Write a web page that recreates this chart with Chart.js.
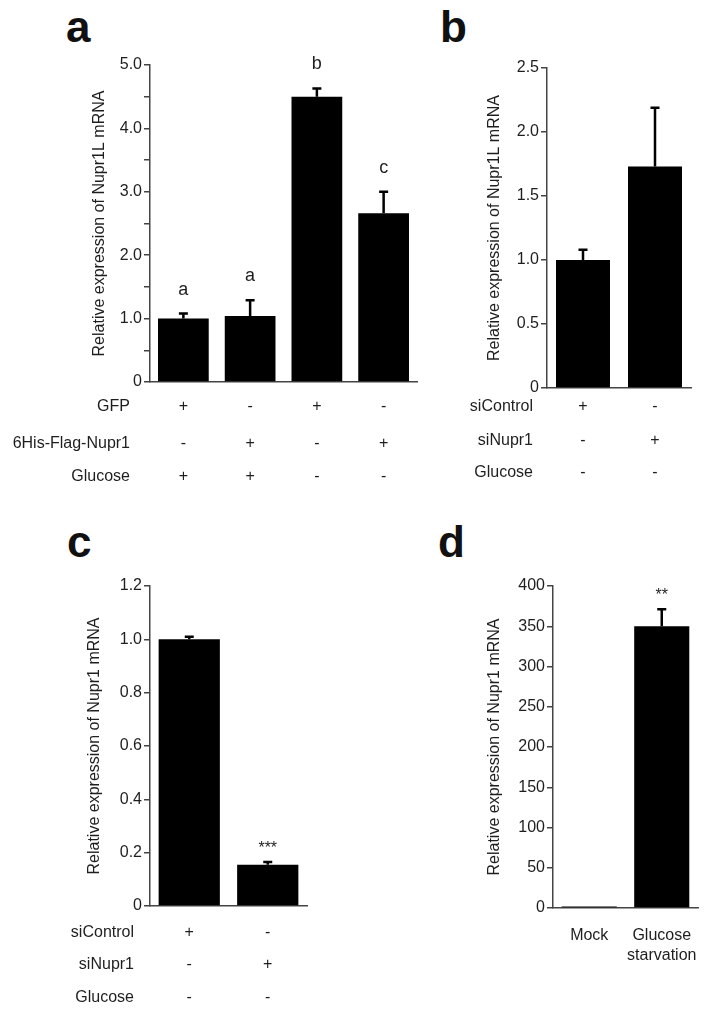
<!DOCTYPE html>
<html>
<head>
<meta charset="utf-8">
<script src="https://cdn.jsdelivr.net/npm/chart.js@4"></script>
<style>
  body { margin: 0; background: #fff; }
  #page { position: relative; width: 716px; height: 1015px; overflow: hidden; }
  canvas { position: absolute; }
  .letter { position: absolute; font: bold 44px "Liberation Sans", Arial, sans-serif; line-height: 44px; color: #111; }
</style>
</head>
<body>
<div id="page">
  <div class="letter" style="left:66px;top:5px">a</div>
  <div class="letter" style="left:440px;top:5px">b</div>
  <div class="letter" style="left:67px;top:520px">c</div>
  <div class="letter" style="left:438px;top:520px">d</div>
  <canvas id="chartA" width="430" height="500" style="left:0;top:0"></canvas>
  <canvas id="chartB" width="286" height="500" style="left:430px;top:0"></canvas>
  <canvas id="chartC" width="430" height="515" style="left:0;top:500px"></canvas>
  <canvas id="chartD" width="286" height="515" style="left:430px;top:500px"></canvas>
</div>
<script>
// panel a
const aCategories = ['GFP +Glc', 'Nupr1 +Glc', 'GFP -Glc', 'Nupr1 -Glc'];
const aValues = [1.0, 1.04, 4.5, 2.66];
const aErrors = [0.08, 0.25, 0.13, 0.34];
const aMarks = ['a', 'a', 'b', 'c'];
const aGFP = ['+', '-', '+', '-'];
const aNupr1 = ['-', '+', '-', '+'];
const aGlucose = ['+', '+', '-', '-'];

// panel b
const bCategories = ['siControl', 'siNupr1'];
const bValues = [1.0, 1.73];
const bErrors = [0.08, 0.46];
const bSiControl = ['+', '-'];
const bSiNupr1 = ['-', '+'];
const bGlucose = ['-', '-'];

// panel c
const cCategories = ['siControl', 'siNupr1'];
const cValues = [1.0, 0.155];
const cErrors = [0.01, 0.01];
const cMarks = ['', '***'];
const cSiControl = ['+', '-'];
const cSiNupr1 = ['-', '+'];
const cGlucose = ['-', '-'];

// panel d
const dCategories = ['Mock', ['Glucose', 'starvation']];
const dValues = [1, 350];
const dErrors = [0, 21];
const dMarks = ['', '**'];

const FONT = '"Liberation Sans", Arial, sans-serif';
const TEXT = '#1e1e1e';
const AXIS = '#444';

// error bars + marks above them
const errorBars = {
  id: 'errorBars',
  afterDatasetsDraw(chart, args, opts) {
    const { ctx } = chart;
    const y = chart.scales.y;
    const meta = chart.getDatasetMeta(0);
    const data = chart.data.datasets[0].data;
    ctx.save();
    meta.data.forEach((bar, i) => {
      const e = opts.errors[i];
      let top = y.getPixelForValue(data[i]);
      if (e) {
        top = y.getPixelForValue(data[i] + e);
        ctx.strokeStyle = '#000';
        ctx.lineWidth = 2.5;
        ctx.beginPath();
        ctx.moveTo(bar.x, bar.y);
        ctx.lineTo(bar.x, top);
        ctx.moveTo(bar.x - 4.5, top);
        ctx.lineTo(bar.x + 4.5, top);
        ctx.stroke();
      }
      const m = opts.marks && opts.marks[i];
      if (m) {
        const star = m.indexOf('*') >= 0;
        ctx.fillStyle = TEXT;
        ctx.font = (star ? '16px ' : '18px ') + FONT;
        ctx.textAlign = 'center';
        ctx.textBaseline = 'alphabetic';
        ctx.fillText(m, bar.x, top - (star ? 9 : 19));
      }
    });
    ctx.restore();
  }
};

// +/- condition table under the x axis
const rowTable = {
  id: 'rowTable',
  afterDraw(chart, args, opts) {
    if (!opts.rows) return;
    const { ctx } = chart;
    const x = chart.scales.x;
    ctx.save();
    ctx.font = '16px ' + FONT;
    ctx.fillStyle = TEXT;
    ctx.textBaseline = 'middle';
    opts.rows.forEach((row, i) => {
      const y = opts.ys[i];
      ctx.textAlign = 'right';
      ctx.fillText(row.label, opts.labelRight, y);
      ctx.textAlign = 'center';
      row.signs.forEach((s, j) => ctx.fillText(s, x.getPixelForValue(j), y));
    });
    ctx.restore();
  }
};

function makePanel(id, p) {
  const yWidth = p.left - p.titleX + 21.6;
  return new Chart(document.getElementById(id), {
    type: 'bar',
    data: {
      labels: p.labels,
      datasets: [{
        data: p.values,
        backgroundColor: '#000',
        borderWidth: 0,
        categoryPercentage: 1,
        barPercentage: p.barPct,
        minBarLength: p.minBar || 0,
      }],
    },
    options: {
      responsive: false,
      animation: false,
      layout: {
        padding: { left: p.left - yWidth, top: p.top, right: p.width - p.right, bottom: p.height - p.bottom - p.xHeight },
      },
      plugins: {
        legend: { display: false },
        tooltip: { enabled: false },
        errorBars: { errors: p.errors, marks: p.marks },
        rowTable: p.table || {},
      },
      scales: {
        x: {
          afterFit: scale => { scale.height = p.xHeight; },
          grid: { display: false },
          border: { color: AXIS, width: 1.5 },
          ticks: {
            display: !!p.showX,
            color: TEXT,
            font: { size: 16, family: FONT, lineHeight: 1.25 },
            padding: 10,
            maxRotation: 0,
            autoSkip: false,
          },
        },
        y: {
          min: 0,
          max: p.max,
          afterFit: scale => { scale.width = yWidth; },
          grid: { drawOnChartArea: false, drawTicks: true, tickLength: 6, color: AXIS, lineWidth: 1.5 },
          border: { color: AXIS, width: 1.5 },
          ticks: {
            stepSize: p.step,
            autoSkip: false,
            padding: 2,
            color: TEXT,
            font: { size: 16, family: FONT },
            callback: p.fmt,
          },
          title: {
            display: true,
            text: p.title,
            color: TEXT,
            font: { size: 16, family: FONT },
            padding: { top: 12, bottom: 0 },
          },
        },
      },
    },
    plugins: [errorBars, rowTable],
  });
}

makePanel('chartA', {
  labels: aCategories, values: aValues, errors: aErrors, marks: aMarks,
  width: 430, height: 500, left: 150, right: 417, top: 65, bottom: 382, xHeight: 0,
  titleX: 100, barPct: 0.76, max: 5, step: 0.5,
  fmt: v => v === 0 ? '0' : (v % 1 === 0 ? v.toFixed(1) : ''),
  title: 'Relative expression of Nupr1L mRNA',
  table: {
    labelRight: 130, ys: [407, 444, 477],
    rows: [
      { label: 'GFP', signs: aGFP },
      { label: '6His-Flag-Nupr1', signs: aNupr1 },
      { label: 'Glucose', signs: aGlucose },
    ],
  },
});

makePanel('chartB', {
  labels: bCategories, values: bValues, errors: bErrors,
  width: 286, height: 500, left: 117, right: 261, top: 68, bottom: 388, xHeight: 0,
  titleX: 65, barPct: 0.75, max: 2.5, step: 0.5,
  fmt: v => v === 0 ? '0' : v.toFixed(1),
  title: 'Relative expression of Nupr1L mRNA',
  table: {
    labelRight: 103, ys: [407, 441, 473],
    rows: [
      { label: 'siControl', signs: bSiControl },
      { label: 'siNupr1', signs: bSiNupr1 },
      { label: 'Glucose', signs: bGlucose },
    ],
  },
});

makePanel('chartC', {
  labels: cCategories, values: cValues, errors: cErrors, marks: cMarks,
  width: 430, height: 515, left: 150, right: 307, top: 86, bottom: 406, xHeight: 0,
  titleX: 95, barPct: 0.78, max: 1.2, step: 0.2,
  fmt: v => v === 0 ? '0' : v.toFixed(1),
  title: 'Relative expression of Nupr1 mRNA',
  table: {
    labelRight: 134, ys: [433, 465, 498],
    rows: [
      { label: 'siControl', signs: cSiControl },
      { label: 'siNupr1', signs: cSiNupr1 },
      { label: 'Glucose', signs: cGlucose },
    ],
  },
});

makePanel('chartD', {
  labels: dCategories, values: dValues, errors: dErrors, marks: dMarks,
  width: 286, height: 515, left: 123, right: 268, top: 86, bottom: 408, xHeight: 80,
  titleX: 65, barPct: 0.76, max: 400, step: 50, minBar: 1.5, showX: true,
  fmt: v => String(v),
  title: 'Relative expression of Nupr1 mRNA',
});
</script>
</body>
</html>
